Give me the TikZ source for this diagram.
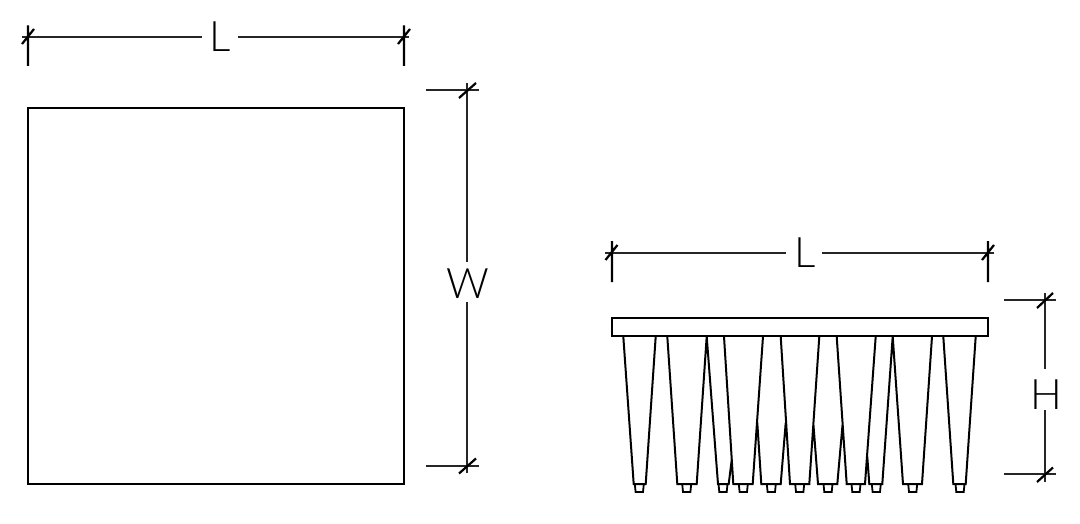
\documentclass[tikz,border=0pt]{standalone}
\usepackage{fontspec}
\setmainfont{Lato Light}
\tikzset{
  every path/.style={line width=2pt,color=black!85},
  ticks/.style={line width=2.2pt,color=black},
  dimtext/.style={inner sep=0pt,font=\fontsize{42}{42}\selectfont,text=black},
  solid shape/.style={line width=2pt,color=black,line join=miter}
}
\begin{document}
\begin{tikzpicture}[x=1pt,y=-1pt]
\useasboundingbox (0,0) rectangle (1080,524);
% labels
\node[dimtext] (L1) at (220.5,36.5) {L};
\node[dimtext] (W1) at (467.5,283.5) {W};
\node[dimtext] (L2) at (805,253) {L};
\node[dimtext] (H1) at (1046,395) {H};
% plan square
\draw[solid shape] (28,108) rectangle (404,484);
% top L dimension
\coordinate (a1) at (22,37); \coordinate (a2) at (202,37);
\coordinate (a3) at (238,37); \coordinate (a4) at (409,37);
\draw (a1) -- (a2) (a3) -- (a4);
\draw[ticks] (28,25.5) -- (28,66) (22,44) -- (34,29);
\draw[ticks] (404,25.5) -- (404,66) (398,44) -- (410,29);
% W dimension
\coordinate (b1) at (467,83); \coordinate (b2) at (467,262);
\coordinate (b3) at (467,302); \coordinate (b4) at (467,473);
\draw (b1) -- (b2) (b3) -- (b4);
\draw (426,90) -- (479,90) (426,466) -- (479,466);
\draw[ticks] (459,98) -- (476,83) (459,473.5) -- (476,458.5);
% right L dimension
\coordinate (c1) at (605,253); \coordinate (c2) at (786,253);
\coordinate (c3) at (822,253); \coordinate (c4) at (994,253);
\draw (c1) -- (c2) (c3) -- (c4);
\draw[ticks] (612,241) -- (612,282) (605.5,260) -- (617.5,245);
\draw[ticks] (988,241) -- (988,282) (982,260) -- (994,245);
% H dimension
\coordinate (d1) at (1045,293); \coordinate (d2) at (1045,369);
\coordinate (d3) at (1045,410); \coordinate (d4) at (1045,482);
\draw (d1) -- (d2) (d3) -- (d4);
\draw (1004,300) -- (1056,300) (1004,474) -- (1056,474);
\draw[ticks] (1037,308) -- (1053,293) (1037,482) -- (1053,467.5);
% plate
\draw[solid shape] (612,318) rectangle (988,336);
% tapers
\draw[solid shape]
  (623.3,336.5) -- (633.7,484) -- (645.7,484) -- (655.7,336.5)
  (667.3,336.5) -- (677.3,484) -- (696.7,484) -- (706.7,336.5)
  (706.7,336.5) -- (718,484) -- (728.7,484) -- (731.7,460)
  (724,336.5) -- (733.3,484) -- (752.7,484) -- (763,336.5)
  (757.3,423) -- (761.3,484) -- (780.7,484) -- (785.7,423)
  (780.7,336.5) -- (790,484) -- (809.3,484) -- (819.3,336.5)
  (813.3,423) -- (818,484) -- (837.3,484) -- (842.7,423)
  (836.7,336.5) -- (846.7,484) -- (865,484) -- (875.7,336.5)
  (867.3,457) -- (869.3,484) -- (882.3,484) -- (892.7,336.5)
  (892.7,336.5) -- (903,484) -- (922,484) -- (932,336.5)
  (943.3,336.5) -- (953.3,484) -- (965.7,484) -- (975.7,336.5);
% feet
\foreach \c in {639.3,686.7,723,743.3,771.3,799.7,828,856,876.3,912.7,960}{
  \draw[solid shape,line width=1.8pt] (\c-4.5,484) -- (\c-3.7,492) -- (\c+3.7,492) -- (\c+4.5,484);
}
\end{tikzpicture}
\end{document}
